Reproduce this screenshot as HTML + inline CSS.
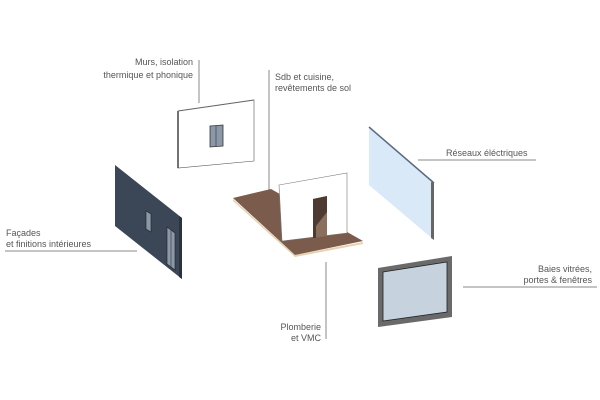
<!DOCTYPE html>
<html><head><meta charset="utf-8"><style>
html,body{margin:0;padding:0;background:#fff;width:600px;height:400px;overflow:hidden}
svg{display:block}
text{font-family:"Liberation Sans",sans-serif;font-size:9px;fill:#555}
</style></head><body>
<svg width="600" height="400" viewBox="0 0 600 400">
<g stroke="#888" stroke-width="1" fill="none">
<line x1="199" y1="60" x2="199" y2="103"/>
<line x1="269" y1="70" x2="269" y2="190"/>
<line x1="418" y1="160" x2="536" y2="160"/>
<line x1="463" y1="287" x2="597" y2="287"/>
<line x1="5" y1="251" x2="137" y2="251"/>
<line x1="326" y1="262" x2="326" y2="339"/>
</g>
<text x="193" y="65" text-anchor="end">Murs, isolation</text>
<text x="193" y="78" text-anchor="end">thermique et phonique</text>
<text x="275" y="80">Sdb et cuisine,</text>
<text x="275" y="91">revêtements de sol</text>
<text x="446" y="156">Réseaux éléctriques</text>
<text x="592" y="272" text-anchor="end">Baies vitrées,</text>
<text x="592" y="283" text-anchor="end">portes &amp; fenêtres</text>
<text x="6" y="236">Façades</text>
<text x="6" y="247">et finitions intérieures</text>
<text x="321" y="330" text-anchor="end">Plomberie</text>
<text x="321" y="341" text-anchor="end">et VMC</text>
<polygon points="178,111 254,100 254,161 178,168" fill="#fff" stroke="#555" stroke-width="0.6"/>
<line x1="178" y1="111" x2="178" y2="168" stroke="#444" stroke-width="1.5"/>
<line x1="178" y1="111" x2="254" y2="100" stroke="#666" stroke-width="1"/>
<polygon points="210,126 223,125 223,146 210,147" fill="#8a98a8" stroke="#333" stroke-width="0.8"/>
<line x1="216" y1="126" x2="216" y2="146" stroke="#333" stroke-width="0.6"/>
<polygon points="115,165 182,218 182,279 115,226" fill="#3b4656"/>
<polygon points="179,216 182,218 182,279 179,277" fill="#2a3340"/>
<polygon points="146,211 151,214 151,232 146,229" fill="#8a98a8" stroke="#222" stroke-width="0.6"/>
<polygon points="167,227 175,233 175,270 167,264" fill="#8a98a8" stroke="#222" stroke-width="0.6"/>
<line x1="171" y1="230" x2="171" y2="267" stroke="#333" stroke-width="0.6"/>
<polygon points="233,199 233,201 295,257 363,244 363,242 295,255" fill="#e6d2b0"/>
<polygon points="233,198 271,189 363,241 295,255" fill="#7b5c4c"/>
<polygon points="279,185 347,173 347,233 282,241" fill="#fff" stroke="#777" stroke-width="0.6"/>
<polygon points="313,199 327,196 327,236 313,238" fill="#8a6e5e"/>
<polygon points="313,199 327,196 327,212 316,226 316,238 313,238" fill="#4e3a30"/>
<polygon points="369,127 434,183 434,240 369,185" fill="#d9e9f7"/>
<line x1="369" y1="127" x2="434" y2="183" stroke="#5a6a80" stroke-width="1.5"/>
<polygon points="431,182 434,183 434,240 431,238" fill="#666"/>
<polygon points="378,268 452,256 452,317 378,327" fill="#6a6a6a"/>
<polygon points="383,272 447,262 447,312 383,321" fill="#c6d2de" stroke="#222" stroke-width="0.8"/>
</svg>
</body></html>
